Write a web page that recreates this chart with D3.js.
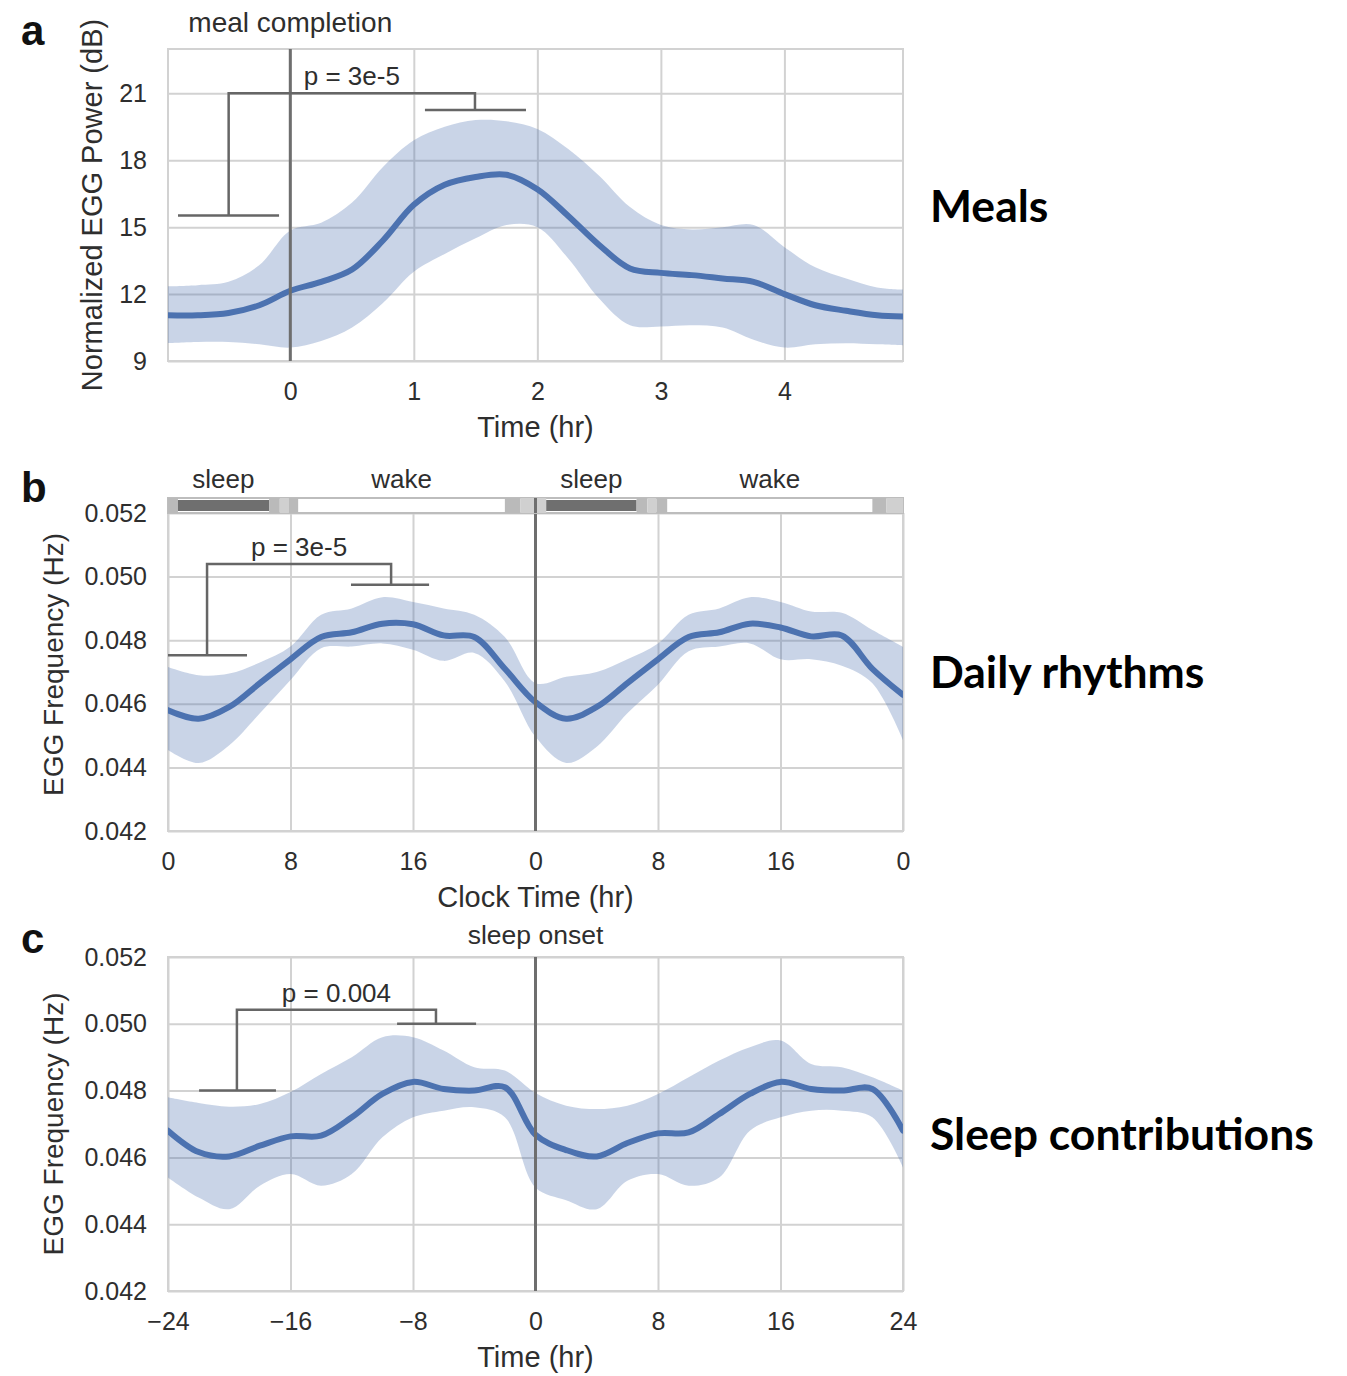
<!DOCTYPE html>
<html><head><meta charset="utf-8">
<script src="https://cdn.jsdelivr.net/npm/d3@7"></script>
<style>
body{margin:0;background:#fff;}
svg{display:block;}
</style></head><body>
<svg id="chart" width="1347" height="1376"></svg>
<script>
// ---------- Panel a: meals ----------
const aHours = [-0.99,-0.75,-0.5,-0.25,0,0.25,0.5,0.75,1,1.25,1.5,1.75,2,2.25,2.5,2.75,3,3.25,3.5,3.75,4,4.25,4.5,4.75,4.96];
const aMean  = [11.05,11.05,11.15,11.5,12.15,12.55,13.1,14.4,16.0,16.9,17.25,17.35,16.7,15.5,14.2,13.15,12.95,12.85,12.7,12.55,12.0,11.5,11.25,11.05,11.0];
const aUpper = [12.35,12.4,12.55,13.3,14.85,15.2,16.1,17.7,18.9,19.5,19.8,19.75,19.4,18.5,17.3,15.9,15.1,14.9,15.0,15.1,14.1,13.2,12.7,12.3,12.2];
const aLower = [9.8,9.85,9.85,9.75,9.6,9.9,10.5,11.6,13.0,13.8,14.5,15.1,15.0,13.6,11.8,10.6,10.55,10.6,10.5,9.95,9.6,9.75,9.8,9.75,9.7];
const aXTicks = [0,1,2,3,4];
const aYTicks = [9,12,15,18,21];
const aBracketX = [-0.909,-0.499,-0.091,1.09,1.495,1.908];
const aBracketY = [15.52,21.0,20.25];
const aPLabel = "p = 3e-5";

// ---------- Panel b: daily rhythms ----------
const bHours = [0,2,4,6,8,10,12,14,16,18,20,22,24,26,28,30,32,34,36,38,40,42,44,46,48];
const bMean  = [0.0458,0.04553,0.0459,0.04665,0.0474,0.0481,0.04825,0.04852,0.0485,0.04815,0.0481,0.0471,0.04605,0.04553,0.0459,0.04665,0.0474,0.0481,0.04825,0.04852,0.0484,0.04812,0.04815,0.0471,0.04628];
const bUpper = [0.04716,0.0469,0.04695,0.0473,0.0478,0.0488,0.049,0.04935,0.0492,0.049,0.0488,0.0481,0.04665,0.04685,0.047,0.0474,0.0479,0.0488,0.049,0.04935,0.0492,0.0489,0.04886,0.04832,0.04779];
const bLower = [0.04455,0.04414,0.0447,0.0457,0.04675,0.04775,0.0478,0.0479,0.0477,0.04735,0.0476,0.0467,0.04496,0.04414,0.04465,0.0457,0.0466,0.04765,0.0478,0.0479,0.0474,0.0474,0.0472,0.04665,0.04486];
const bXTicks = [0,8,16,24,32,40,48];
const bXTickLabels = ["0","8","16","0","8","16","0"];
const bYTicks = [0.042,0.044,0.046,0.048,0.050,0.052];
const bSegStart = [0,0.65,6.6,7.3,7.9,22.0,23.0,24.7,30.6,31.3,31.9,46.0,46.9];
const bSegEnd   = [0.65,6.6,7.3,7.9,8.5,23.0,24.7,30.6,31.3,31.9,32.6,46.9,48];
const bSegKind  = ["trans","sleep","trans","light","trans","trans","light","sleep","trans","light","trans","trans","light"];
const bStateLabels = ["sleep","wake","sleep","wake"];
const bStateCenters = [3.62,15.25,27.65,39.3];
const bBracketX = [0,2.55,5.16,11.95,14.57,17.05];
const bBracketY = [0.04753,0.0504,0.04974];
const bPLabel = "p = 3e-5";

// ---------- Panel c: sleep contributions ----------
const cHours = [-24,-22,-20,-18,-16,-14,-12,-10,-8,-6,-4,-2,0,2,4,6,8,10,12,14,16,18,20,22,24];
const cMean  = [0.0468,0.04616,0.04603,0.04635,0.04663,0.04665,0.0472,0.0479,0.04826,0.04805,0.048,0.0481,0.04668,0.04622,0.04603,0.04643,0.04672,0.04675,0.0473,0.0479,0.04826,0.04805,0.048,0.04805,0.0468];
const cUpper = [0.0478,0.04763,0.04752,0.0476,0.04796,0.0485,0.049,0.0496,0.0496,0.0492,0.0487,0.0486,0.04793,0.04755,0.04745,0.04755,0.0479,0.0484,0.0489,0.0493,0.0495,0.0488,0.0487,0.0484,0.048];
const cLower = [0.0454,0.0448,0.04445,0.04515,0.0455,0.04515,0.0455,0.0466,0.0472,0.0474,0.0475,0.0472,0.0451,0.04472,0.04445,0.0453,0.0455,0.04515,0.0454,0.0468,0.0472,0.0474,0.0474,0.0472,0.0457];
const cXTicks = [-24,-16,-8,0,8,16,24];
const cYTicks = [0.042,0.044,0.046,0.048,0.050,0.052];
const cBracketX = [-21.97,-19.5,-16.95,-9.04,-6.5,-3.88];
const cBracketY = [0.048,0.05042,0.050];
const cPLabel = "p = 0.004";

const sideLabels = ["Meals","Daily rhythms","Sleep contributions"];

// ---------- drawing ----------
const svg = d3.select("#chart");
const FONT = "'Liberation Sans', Arial, sans-serif";
const LINE = "#4c72b0", GRID = "#d2d2d2", TXT = "#2e2e2e", EVT = "#6e6e6e", BRK = "#666";
const L = 168, R = 903;

function panel(o){
  const g = svg.append("g");
  const x = d3.scaleLinear().domain(o.xDomain).range([L,R]);
  const y = d3.scaleLinear().domain(o.yDomain).range([o.bottom,o.yTopPx]);
  const top = o.top;
  const clipId = "clip"+o.id;
  svg.append("clipPath").attr("id",clipId).append("rect")
    .attr("x",L).attr("y",top).attr("width",R-L).attr("height",o.bottom-top);

  // grid
  const gx = g.append("g").attr("transform",`translate(0,${o.bottom})`)
    .call(d3.axisBottom(x).tickValues(o.xTicks).tickSize(-(o.bottom-(o.gridTop||top))).tickFormat(""));
  gx.select(".domain").remove();
  gx.selectAll("line").attr("stroke",GRID).attr("stroke-width",2);
  const gy = g.append("g").attr("transform",`translate(${L},0)`)
    .call(d3.axisLeft(y).tickValues(o.yTicks).tickSize(-(R-L)).tickFormat(""));
  gy.select(".domain").remove();
  gy.selectAll("line").attr("stroke",GRID).attr("stroke-width",2);
  // frame
  g.append("rect").attr("x",L).attr("y",top).attr("width",R-L).attr("height",o.bottom-top)
    .attr("fill","none").attr("stroke",GRID).attr("stroke-width",2);

  // tick labels
  const ax = g.append("g").attr("transform",`translate(0,${o.bottom})`)
    .call(d3.axisBottom(x).tickValues(o.xTicks).tickSize(0).tickPadding(21)
      .tickFormat(o.xFormat));
  ax.select(".domain").remove();
  ax.selectAll("text").attr("font-family",FONT).attr("font-size",25).attr("fill",TXT);
  const ay = g.append("g").attr("transform",`translate(${L},0)`)
    .call(d3.axisLeft(y).tickValues(o.yTicks).tickSize(0).tickPadding(21).tickFormat(o.yFormat));
  ay.select(".domain").remove();
  ay.selectAll("text").attr("font-family",FONT).attr("font-size",25).attr("fill",TXT);

  // band + mean
  const pts = o.hours.map((h,i)=>({h, m:o.mean[i], u:o.upper[i], l:o.lower[i]}));
  const area = d3.area().x(d=>x(d.h)).y0(d=>y(d.l)).y1(d=>y(d.u)).curve(d3.curveCatmullRom.alpha(0.5));
  const line = d3.line().x(d=>x(d.h)).y(d=>y(d.m)).curve(d3.curveCatmullRom.alpha(0.5));
  const pg = g.append("g").attr("clip-path",`url(#${clipId})`);
  pg.append("path").datum(pts).attr("d",area).attr("fill",LINE).attr("fill-opacity",0.3);
  pg.append("path").datum(pts).attr("d",line).attr("fill","none").attr("stroke",LINE)
    .attr("stroke-width",6).attr("stroke-linecap","round");

  // event line
  g.append("line").attr("x1",x(o.event)).attr("x2",x(o.event)).attr("y1",top).attr("y2",o.bottom)
    .attr("stroke",EVT).attr("stroke-width",3);

  // bracket
  const bx = o.bx, by = o.by;
  const br = g.append("g").attr("stroke",BRK).attr("stroke-width",2.5).attr("fill","none");
  br.append("line").attr("x1",x(bx[0])).attr("x2",x(bx[2])).attr("y1",y(by[0])).attr("y2",y(by[0]));
  br.append("path").attr("d",`M${x(bx[1])},${y(by[0])}V${y(by[1])}H${x(bx[4])}V${y(by[2])}`);
  br.append("line").attr("x1",x(bx[3])).attr("x2",x(bx[5])).attr("y1",y(by[2])).attr("y2",y(by[2]));
  g.append("text").attr("x",(x(bx[1])+x(bx[4]))/2).attr("y",y(by[1])-8)
    .attr("text-anchor","middle").attr("font-family",FONT).attr("font-size",26).attr("fill",TXT)
    .text(o.pLabel);

  // axis label
  g.append("text").attr("x",(L+R)/2).attr("y",o.bottom+76).attr("text-anchor","middle")
    .attr("font-family",FONT).attr("font-size",29).attr("fill",TXT).text(o.xLabel);
  g.append("text").attr("transform",`translate(${o.yLabelX},${(top+o.bottom)/2}) rotate(-90)`)
    .attr("text-anchor","middle").attr("font-family",FONT).attr("font-size",o.yLabelSize||28).attr("fill",TXT)
    .text(o.yLabel);

  // panel letter
  g.append("text").attr("x",21).attr("y",o.letterY).attr("font-family",FONT)
    .attr("font-weight","bold").attr("font-size",42).attr("fill","#111").text(o.letter);

  // side label
  g.append("text").attr("x",930).attr("y",o.sideY).attr("font-family","Lato, 'Open Sans', sans-serif")
    .attr("font-weight","bold").attr("font-size",44.5).attr("fill","#000").text(o.side);
  return {g,x,y};
}

// Panel a
const pa = panel({id:"a", xDomain:[-0.99,4.96], yDomain:[9,21], top:49, bottom:361, yTopPx:93.3,
  xTicks:aXTicks, yTicks:aYTicks, xFormat:d3.format("d"), yFormat:d3.format("d"),
  hours:aHours, mean:aMean, upper:aUpper, lower:aLower, event:0,
  bx:aBracketX, by:aBracketY, pLabel:aPLabel, xLabel:"Time (hr)", yLabel:"Normalized EGG Power (dB)",
  yLabelX:102, yLabelSize:29, letter:"a", letterY:45, side:sideLabels[0], sideY:222});
pa.g.append("text").attr("x",pa.x(0)).attr("y",32).attr("text-anchor","middle")
  .attr("font-family",FONT).attr("font-size",28).attr("fill",TXT).text("meal completion");

// Panel b
const pb = panel({id:"b", xDomain:[0,48], yDomain:[0.042,0.052], top:498, gridTop:513, bottom:831, yTopPx:513,
  xTicks:bXTicks, yTicks:bYTicks, xFormat:(d,i)=>bXTickLabels[i], yFormat:d3.format(".3f"),
  hours:bHours, mean:bMean, upper:bUpper, lower:bLower, event:24,
  bx:bBracketX, by:bBracketY, pLabel:bPLabel, xLabel:"Clock Time (hr)", yLabel:"EGG Frequency (Hz)",
  yLabelX:63, letter:"b", letterY:502, side:sideLabels[1], sideY:688});
// sleep/wake bar
const barG = pb.g.append("g");
barG.append("rect").attr("x",L).attr("y",498).attr("width",R-L).attr("height",15)
  .attr("fill","#fff").attr("stroke","#bdbdbd").attr("stroke-width",2);
const segFill = {sleep:"#6f6f6f", trans:"#bababa", light:"#d0d0d0"};
bSegStart.forEach((s,i)=>{
  const sleep = bSegKind[i]==="sleep";
  barG.append("rect").attr("x",pb.x(s)).attr("width",pb.x(bSegEnd[i])-pb.x(s))
    .attr("y",sleep?500:498).attr("height",sleep?11:15)
    .attr("fill",segFill[bSegKind[i]]);
});
barG.append("line").attr("x1",pb.x(24)).attr("x2",pb.x(24)).attr("y1",498).attr("y2",513)
  .attr("stroke",EVT).attr("stroke-width",3);
bStateLabels.forEach((t,i)=>{
  pb.g.append("text").attr("x",pb.x(bStateCenters[i])).attr("y",488).attr("text-anchor","middle")
    .attr("font-family",FONT).attr("font-size",26).attr("fill",TXT).text(t);
});

// Panel c
const pc = panel({id:"c", xDomain:[-24,24], yDomain:[0.042,0.052], top:957, bottom:1291, yTopPx:957,
  xTicks:cXTicks, yTicks:cYTicks, xFormat:d=>d<0?"\u2212"+Math.abs(d):String(d), yFormat:d3.format(".3f"),
  hours:cHours, mean:cMean, upper:cUpper, lower:cLower, event:0,
  bx:cBracketX, by:cBracketY, pLabel:cPLabel, xLabel:"Time (hr)", yLabel:"EGG Frequency (Hz)",
  yLabelX:63, letter:"c", letterY:953, side:sideLabels[2], sideY:1150});
pc.g.append("text").attr("x",pc.x(0)).attr("y",944).attr("text-anchor","middle")
  .attr("font-family",FONT).attr("font-size",26.5).attr("fill",TXT).text("sleep onset");
</script>
</body></html>
